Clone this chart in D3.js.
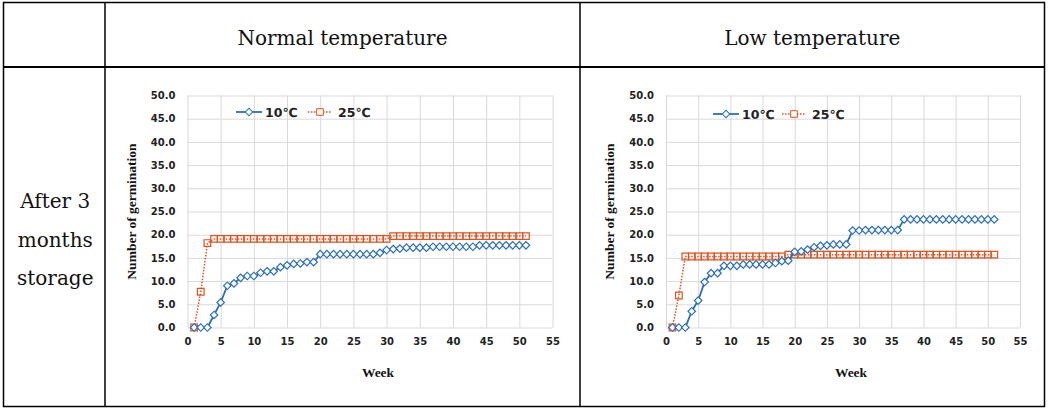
<!DOCTYPE html>
<html>
<head>
<meta charset="utf-8">
<script src="https://cdn.jsdelivr.net/npm/d3@7"></script>
<style>
  body { margin: 0; background: #fff; }
  svg { display: block; }
  .cell-text { font-family: "DejaVu Serif", serif; font-size: 20px; fill: #111; }
  .tick text { font-family: "DejaVu Sans", sans-serif; font-weight: bold; font-size: 10px; fill: #222; }
  .grid line { stroke: #d9d9d9; stroke-width: 1; }
  .axis-title { font-family: "Liberation Serif", serif; font-weight: bold; font-size: 13.5px; fill: #111; }
  .legend-text { font-family: "DejaVu Sans", sans-serif; font-weight: bold; font-size: 12.5px; fill: #222; }
</style>
</head>
<body>
<div id="wrapper"></div>
<script>
// weeks on the x axis
const weeks = [1,2,3,4,5,6,7,8,9,10,11,12,13,14,15,16,17,18,19,20,21,22,23,24,25,
  26,27,28,29,30,31,32,33,34,35,36,37,38,39,40,41,42,43,44,45,46,47,48,49,50,51]

// normal temperature panel
const normal10 = [0,0,0,2.7,5.4,9.0,9.5,10.7,11.1,11.1,11.8,12.1,12.1,13.0,13.4,13.7,13.8,14.1,14.1,15.8,
  15.8,15.8,15.8,15.8,15.8,15.8,15.8,15.8,16.1,16.7,16.9,17.0,17.2,17.2,17.2,17.2,
  17.4,17.4,17.4,17.4,17.4,17.4,17.4,17.7,17.7,17.7,17.7,17.7,17.7,17.7,17.7]
const normal25 = [0,7.7,18.2,19.1,19.1,19.1,19.1,19.1,19.1,19.1,19.1,19.1,19.1,19.1,19.1,19.1,19.1,
  19.1,19.1,19.1,19.1,19.1,19.1,19.1,19.1,19.1,19.1,19.1,19.1,19.1,
  19.7,19.7,19.7,19.7,19.7,19.7,19.7,19.7,19.7,19.7,19.7,19.7,19.7,19.7,19.7,19.7,19.7,19.7,19.7,19.7,19.7]

// low temperature panel
const low10 = [0,0,0,3.5,5.8,9.8,11.7,11.7,13.3,13.3,13.3,13.6,13.6,13.6,13.6,13.6,13.9,14.3,14.4,16.3,
  16.4,16.8,17.3,17.6,17.7,17.9,17.9,17.9,20.9,20.9,21.0,21.0,21.0,21.0,21.0,21.0,
  23.3,23.3,23.3,23.3,23.3,23.3,23.3,23.3,23.3,23.3,23.3,23.3,23.3,23.3,23.3]
const low25 = [0,6.9,15.3,15.3,15.3,15.3,15.3,15.3,15.3,15.3,15.3,15.3,15.3,15.3,15.3,15.3,15.3,15.3,
  15.7,15.7,15.7,15.7,15.7,15.7,15.7,15.7,15.7,15.7,15.7,15.7,15.7,15.7,15.7,15.7,15.7,15.7,
  15.7,15.7,15.7,15.7,15.7,15.7,15.7,15.7,15.7,15.7,15.7,15.7,15.7,15.7,15.7]

// tick labels
const xTicks = [0,5,10,15,20,25,30,35,40,45,50,55]
const yTicks = [0,5,10,15,20,25,30,35,40,45,50]
const seriesNames = ["10\u2103", "25\u2103"]
const headers = ["Normal temperature", "Low temperature"]
const rowLabel = ["After 3", "months", "storage"]

const width = 1048
const height = 409
const blue = "#2a6fbf"
const orange = "#e0531f"

const svg = d3.select("#wrapper")
  .append("svg")
    .attr("width", width)
    .attr("height", height)

// table grid
const table = { left: 3.5, right: 1044.5, top: 2.5, bottom: 406.5, col1: 105, col2: 580, row1: 67 }
const tg = svg.append("g").attr("stroke", "#000").attr("fill", "none")
tg.append("rect")
    .attr("x", table.left).attr("y", table.top)
    .attr("width", table.right - table.left).attr("height", table.bottom - table.top)
    .attr("stroke-width", 1.5)
tg.append("line")
    .attr("x1", table.left).attr("x2", table.right)
    .attr("y1", table.row1).attr("y2", table.row1)
    .attr("stroke-width", 2)
;[table.col1, table.col2].forEach(x => {
  tg.append("line")
      .attr("x1", x).attr("x2", x)
      .attr("y1", table.top).attr("y2", table.bottom)
      .attr("stroke-width", 1.5)
})

// header texts
svg.selectAll(".header")
  .data(headers)
  .join("text")
    .attr("class", "cell-text")
    .attr("text-anchor", "middle")
    .attr("x", (d, i) => i == 0 ? (table.col1 + table.col2) / 2 : (table.col2 + table.right) / 2)
    .attr("y", 45)
    .text(d => d)

svg.selectAll(".row-label")
  .data(rowLabel)
  .join("text")
    .attr("class", "cell-text")
    .attr("text-anchor", "middle")
    .attr("x", (table.left + table.col1) / 2 + 1)
    .attr("y", (d, i) => 208 + i * 38.5)
    .text(d => d)

// one excel style chart
function drawPanel(cfg) {
  const x = d3.scaleLinear().domain([0, 55]).range([cfg.x0, cfg.x1])
  const y = d3.scaleLinear().domain([0, 50]).range([327.5, 95.5])
  const g = svg.append("g")

  // gridlines + tick labels
  g.append("g")
      .attr("class", "grid")
      .attr("transform", `translate(${cfg.x0},0)`)
      .call(d3.axisLeft(y).tickValues(yTicks).tickFormat(d3.format(".1f"))
        .tickSize(-(cfg.x1 - cfg.x0)).tickPadding(12))
      .call(a => a.select(".domain").remove())

  g.append("g")
      .attr("class", "grid")
      .attr("transform", `translate(0,${y(0)})`)
      .call(d3.axisBottom(x).tickValues(xTicks)
        .tickSize(-(y(0) - y(50))).tickPadding(10))
      .call(a => a.select(".domain").remove())

  // axis titles
  g.append("text")
      .attr("class", "axis-title")
      .attr("text-anchor", "middle")
      .attr("transform", `translate(${cfg.x0 - 52},${(y(0) + y(50)) / 2}) rotate(-90)`)
      .text("Number of germination")

  g.append("text")
      .attr("class", "axis-title")
      .attr("text-anchor", "middle")
      .attr("x", (cfg.x0 + cfg.x1) / 2 + 8)
      .attr("y", 377)
      .text("Week")

  const line = d3.line()
    .x((d, i) => x(weeks[i]))
    .y(d => y(d))

  const diamond = d3.symbol(d3.symbolSquare, 28)()
  const square = d3.symbol(d3.symbolSquare, 44)()

  // 25C series
  g.append("path")
      .attr("d", line(cfg.s25))
      .attr("fill", "none")
      .attr("stroke", orange)
      .attr("stroke-width", 1.5)
      .attr("stroke-dasharray", "1.5,1.5")
  g.selectAll(".sq")
    .data(cfg.s25)
    .join("path")
      .attr("d", square)
      .attr("transform", (d, i) => `translate(${x(weeks[i])},${y(d)})`)
      .attr("fill", "none")
      .attr("stroke", orange)
      .attr("stroke-width", 1.2)

  // 10C series
  g.append("path")
      .attr("d", line(cfg.s10))
      .attr("fill", "none")
      .attr("stroke", blue)
      .attr("stroke-width", 1.8)
  g.selectAll(".dm")
    .data(cfg.s10)
    .join("path")
      .attr("d", diamond)
      .attr("transform", (d, i) => `translate(${x(weeks[i])},${y(d)}) rotate(45)`)
      .attr("fill", "#fff")
      .attr("stroke", blue)
      .attr("stroke-width", 1.2)

  // legend
  const lg = g.append("g").attr("transform", `translate(${cfg.legendX},${cfg.legendY})`)
  lg.append("line").attr("x1", 0).attr("x2", 26)
      .attr("stroke", blue).attr("stroke-width", 1.8)
  lg.append("path").attr("d", diamond)
      .attr("transform", "translate(13,0) rotate(45)")
      .attr("fill", "#fff").attr("stroke", blue).attr("stroke-width", 1)
  lg.append("text").attr("class", "legend-text")
      .attr("x", 29).attr("y", 4.5).text(seriesNames[0])
  lg.append("line").attr("x1", cfg.legendGap).attr("x2", cfg.legendGap + 24)
      .attr("stroke", orange).attr("stroke-width", 1.5).attr("stroke-dasharray", "1.5,1.5")
  lg.append("path").attr("d", square)
      .attr("transform", `translate(${cfg.legendGap + 12},0)`)
      .attr("fill", "#fff").attr("stroke", orange).attr("stroke-width", 1)
  lg.append("text").attr("class", "legend-text")
      .attr("x", cfg.legendGap + 30).attr("y", 4.5).text(seriesNames[1])
}

drawPanel({ x0: 187.5, x1: 552.5, s10: normal10, s25: normal25, legendX: 236, legendY: 112, legendGap: 72 })
drawPanel({ x0: 666, x1: 1020, s10: low10, s25: low25, legendX: 713, legendY: 114, legendGap: 69 })
</script>
</body>
</html>
